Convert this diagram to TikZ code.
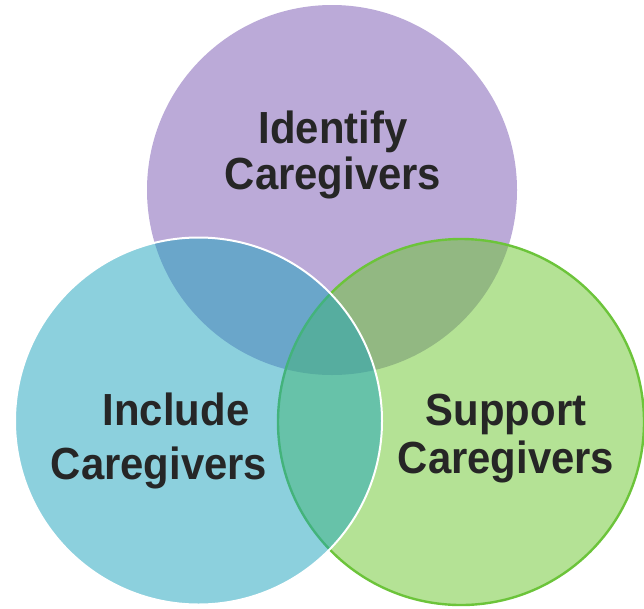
\documentclass[tikz,border=0pt]{standalone}
\usepackage{fontspec}
\setmainfont{Liberation Sans}[FakeStretch=0.93]
\definecolor{purpleC}{HTML}{BBAAD8}
\definecolor{blueC}{HTML}{1BA3BD}
\definecolor{greenC}{HTML}{6BC72D}
\definecolor{greenB}{HTML}{6CC43A}
\definecolor{txt}{HTML}{262626}
\tikzset{
  lbl/.style={anchor=base, inner sep=0pt, text=txt, font=\fontsize{45}{49}\selectfont\bfseries}
}
\begin{document}
\begin{tikzpicture}[x=1pt,y=-1pt]
\useasboundingbox (0,0) rectangle (644,608);
\fill[white] (0,0) rectangle (644,608);
% purple
\fill[purpleC] (332,190) circle[radius=185pt];
% green
\path[fill=greenC, fill opacity=0.5, draw=greenB, line width=2.4pt] (461,422) circle[radius=183pt];
% blue
\path[fill=blueC, fill opacity=0.5, draw=white, line width=2pt] (198.5,421) circle[radius=183.5pt];
% labels
\node[lbl] (id1) at (333,143) {Identify};
\node[lbl] (id2) at (333,189) {Caregivers};
\node[lbl] (in1) at (176,425) {Include};
\node[lbl] (in2) at (159,479) {Caregivers};
\node[lbl] (su1) at (506,425) {Support};
\node[lbl] (su2) at (506,473) {Caregivers};
\end{tikzpicture}
\end{document}
